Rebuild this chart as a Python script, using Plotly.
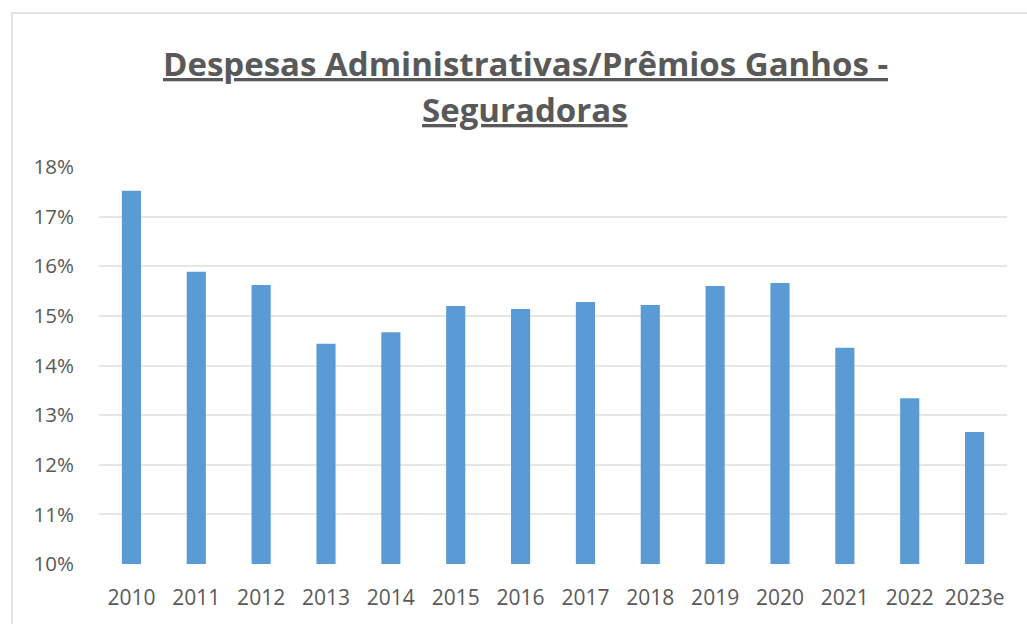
import plotly.graph_objects as go

years = ["2010", "2011", "2012", "2013", "2014", "2015", "2016", "2017", "2018", "2019", "2020", "2021", "2022", "2023e"]
ratio_pct = [17.52, 15.89, 15.62, 14.44, 14.67, 15.20, 15.14, 15.28, 15.22, 15.60, 15.66, 14.36, 13.34, 12.66]
y_ticks = [10, 11, 12, 13, 14, 15, 16, 17, 18]
y_tick_labels = [f"{v}%" for v in y_ticks]
title_line1 = "Despesas Administrativas/Prêmios Ganhos -"
title_line2 = "Seguradoras"

W, H = 1027, 624
L, R, T, B = 99, 20, 167, 60
pw, ph = W - L - R, H - T - B

def px_x(p):
    return (p - L) / pw

def px_y(p):
    return (H - B - p) / ph

fig = go.Figure(go.Bar(
    x=years, y=ratio_pct, marker=dict(color="#5B9BD5", line=dict(width=0)),
))

grey = "#595959"
fig.update_layout(
    width=W, height=H,
    margin=dict(l=L, r=R, t=T, b=B, autoexpand=False),
    paper_bgcolor="white", plot_bgcolor="white",
    bargap=0.705,
    showlegend=False,
    font=dict(family="Open Sans", color=grey),
    xaxis=dict(
        showgrid=False, showline=False, ticks="", zeroline=False,
        tickfont=dict(size=21, color=grey, family="Open Sans"),
        ticklabelstandoff=19,
    ),
    yaxis=dict(
        range=[10, 18], tickvals=y_ticks, ticktext=y_tick_labels,
        showgrid=True, gridcolor="#e6e6e6", gridwidth=2,
        zeroline=False, showline=False, ticks="",
        tickfont=dict(size=20.5, color=grey, family="Open Sans"),
        ticklabelstandoff=24,
    ),
    annotations=[
        dict(text=f"<b><u>{title_line1}</u></b>", x=px_x(525), y=px_y(63), xref="paper", yref="paper",
             showarrow=False, xanchor="center", yanchor="middle",
             font=dict(size=33, color=grey, family="Open Sans")),
        dict(text=f"<b><u>{title_line2}</u></b>", x=px_x(525), y=px_y(110), xref="paper", yref="paper",
             showarrow=False, xanchor="center", yanchor="middle",
             font=dict(size=33, color=grey, family="Open Sans")),
    ],
    shapes=[
        dict(type="rect", xref="paper", yref="paper",
             x0=px_x(12), x1=px_x(1040), y0=px_y(640), y1=px_y(13),
             line=dict(color="#d9d9d9", width=1.5), fillcolor="rgba(0,0,0,0)", layer="below"),
    ],
)

fig.write_html("out.html", config={"displayModeBar": False},
               post_script="document.body.style.margin='0';document.body.style.overflow='hidden';")
